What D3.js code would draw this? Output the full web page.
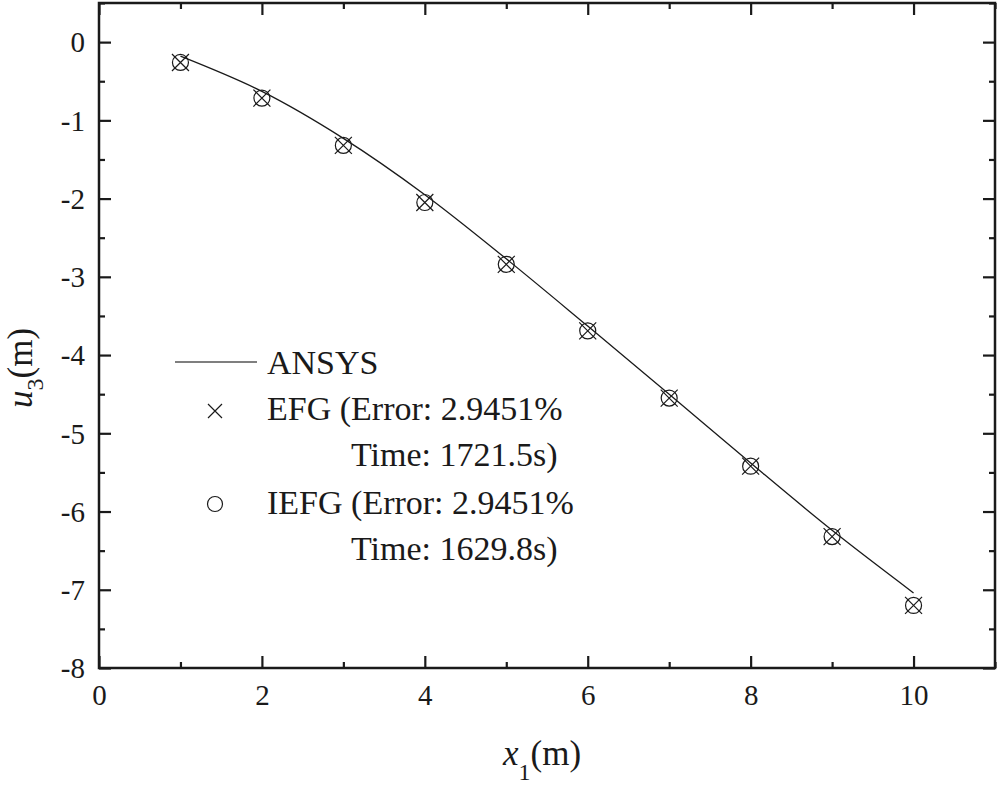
<!DOCTYPE html>
<html>
<head>
<meta charset="utf-8">
<script src="https://cdn.jsdelivr.net/npm/d3@7/dist/d3.min.js"></script>
<style>
html,body{margin:0;padding:0;background:#fff;}
svg{display:block;font-family:"Liberation Serif","Times New Roman",serif;}
svg text{font-family:"Liberation Serif","Times New Roman",serif;}
</style>
</head>
<body>
<svg id="chart" width="1000" height="786"></svg>
<script>
// ---- data ----
const xValues = [1, 2, 3, 4, 5, 6, 7, 8, 9, 10];
const efgValues = [-0.26, -0.715, -1.32, -2.05, -2.84, -3.69, -4.55, -5.42, -6.32, -7.20];
const iefgValues = [-0.26, -0.715, -1.32, -2.05, -2.84, -3.69, -4.55, -5.42, -6.32, -7.20];
const ansysX = [1, 2, 3, 4, 5, 6, 7, 8, 9, 10];
const ansysValues = [-0.18, -0.63, -1.23, -1.95, -2.77, -3.63, -4.50, -5.38, -6.24, -7.04];
const xTicks = [0, 2, 4, 6, 8, 10];
const yTicks = [0, -1, -2, -3, -4, -5, -6, -7, -8];
const legendLabels = ["ANSYS", "EFG (Error: 2.9451%", "Time: 1721.5s)", "IEFG (Error: 2.9451%", "Time: 1629.8s)"];

// ---- layout ----
const svg = d3.select("#chart");
const L = 99, R = 995, T = 3, B = 668;
const x = d3.scaleLinear().domain([0, 11]).range([L, R]);
const y = d3.scaleLinear().domain([-8, 0.5]).range([B, T]);
const ink = "#1a1a1a";
const serif = '"Liberation Serif","Times New Roman",serif';

const xMinor = d3.range(0, 11.01, 1).filter(v => !xTicks.includes(v));
const yMinor = d3.range(-7.5, 0.51, 1);

function axisInward(axisFn, scale, major, minor, transform, showLabels) {
  const gMaj = svg.append("g").attr("transform", transform)
    .call(axisFn(scale).tickValues(major).tickSizeInner(-12).tickSizeOuter(0)
      .tickFormat(showLabels ? (d => String(d)) : "").tickPadding(showLabels ? 22 : 0));
  const gMin = svg.append("g").attr("transform", transform)
    .call(axisFn(scale).tickValues(minor).tickSizeInner(-6).tickSizeOuter(0).tickFormat(""));
  [gMaj, gMin].forEach(g => {
    g.attr("font-family", serif);
    g.select(".domain").remove();
    g.selectAll(".tick line").attr("stroke", ink).attr("stroke-width", 2.2);
  });
  return gMaj;
}

const gx = axisInward(d3.axisBottom, x, xTicks, xMinor, `translate(0,${B})`, true);
gx.selectAll(".tick text").attr("font-size", 29).attr("fill", ink).attr("dy", "0.71em").attr("y", 16);
axisInward(d3.axisTop, x, xTicks, xMinor, `translate(0,${T})`, false);
const gy = axisInward(d3.axisLeft, y, yTicks, yMinor, `translate(${L},0)`, true);
gy.selectAll(".tick text").attr("font-size", 29).attr("fill", ink).attr("x", -14).attr("dy", "0.34em");
axisInward(d3.axisRight, y, yTicks, yMinor, `translate(${R},0)`, false);

// frame
svg.append("rect").attr("x", L).attr("y", T).attr("width", R - L).attr("height", B - T)
  .attr("fill", "none").attr("stroke", ink).attr("stroke-width", 2.5);

// ANSYS line
const line = d3.line().x(d => x(d[0])).y(d => y(d[1])).curve(d3.curveCatmullRom);
svg.append("path").datum(ansysX.map((v, i) => [v, ansysValues[i]]))
  .attr("d", line).attr("fill", "none").attr("stroke", ink).attr("stroke-width", 1.3);

// markers
const crossPath = s => `M${-s},${-s}L${s},${s}M${-s},${s}L${s},${-s}`;
svg.append("g").selectAll("path").data(xValues.map((v, i) => [v, efgValues[i]])).join("path")
  .attr("transform", d => `translate(${x(d[0])},${y(d[1])})`)
  .attr("d", crossPath(8.5)).attr("fill", "none").attr("stroke", ink).attr("stroke-width", 1.2);
svg.append("g").selectAll("circle").data(xValues.map((v, i) => [v, iefgValues[i]])).join("circle")
  .attr("cx", d => x(d[0])).attr("cy", d => y(d[1])).attr("r", 8)
  .attr("fill", "none").attr("stroke", ink).attr("stroke-width", 1.2);

// legend
const lg = svg.append("g").attr("font-size", 34).attr("fill", ink).attr("font-family", serif);
lg.append("line").attr("x1", 175).attr("x2", 257).attr("y1", 362).attr("y2", 362)
  .attr("stroke", "#555").attr("stroke-width", 1.3);
lg.append("path").attr("transform", "translate(215,411)").attr("d", crossPath(7))
  .attr("stroke", ink).attr("stroke-width", 1.2).attr("fill", "none");
lg.append("circle").attr("cx", 215).attr("cy", 504).attr("r", 7.5)
  .attr("stroke", ink).attr("stroke-width", 1.2).attr("fill", "none");
const legPos = [[267, 374], [267, 420], [351, 466], [267, 514], [351, 560]];
legendLabels.forEach((t, i) => {
  lg.append("text").attr("x", legPos[i][0]).attr("y", legPos[i][1]).attr("fill", ink).text(t);
});

// axis titles
const xt = svg.append("text").attr("x", 503).attr("y", 765).attr("font-size", 35)
  .attr("fill", ink).attr("font-family", serif);
xt.append("tspan").attr("font-style", "italic").text("x");
xt.append("tspan").attr("font-size", 24).attr("dy", 15).text("1");
xt.append("tspan").attr("dy", -15).text("(m)");

const yt = svg.append("text").attr("transform", "translate(32,408) rotate(-90)")
  .attr("font-size", 35).attr("fill", ink).attr("font-family", serif);
yt.append("tspan").attr("font-style", "italic").text("u");
yt.append("tspan").attr("font-size", 24).attr("dy", 11).text("3");
yt.append("tspan").attr("dy", -11).text("(m)");
</script>
</body>
</html>
